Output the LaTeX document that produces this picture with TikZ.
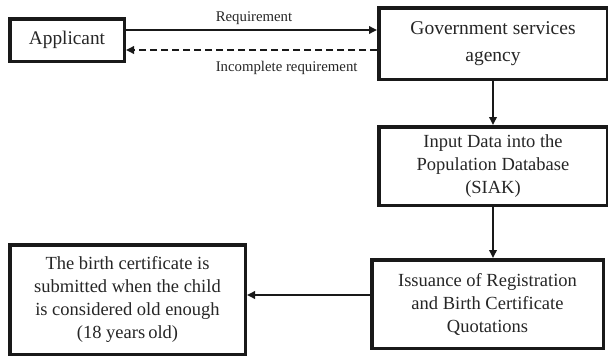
\documentclass[tikz,border=0pt]{standalone}
\usepackage{fontspec}
\setmainfont{Liberation Serif}
\usetikzlibrary{arrows.meta,calc}
\begin{document}
\begin{tikzpicture}[x=1pt,y=-1pt,
  box/.style={draw=black!90, line width=3.5pt, align=center, inner sep=0pt, text=black!85, font=\fontsize{18.5}{23}\selectfont},
  conn/.style={draw=black!90, line width=1.8pt, -{Triangle[length=8pt,width=7.5pt]}},
  lab/.style={font=\fontsize{14.8}{17}\selectfont, inner sep=0pt, text=black!85}]
\useasboundingbox[fill=white] (0,0) rectangle (608,359);
\node[box, minimum width=114.5pt, minimum height=42.5pt, font=\fontsize{19.3}{23}\selectfont] (app) at (67,40) {Applicant};
\node[box, minimum width=228.5pt, minimum height=71.5pt, font=\fontsize{19.5}{27}\selectfont] (gov) at (493,43.5) {Government services\\agency};
\node[box, minimum width=228.5pt, minimum height=78.5pt] (inp) at (493,166) {Input Data into the\\Population Database\\(SIAK)};
\node[box, minimum width=231.5pt, minimum height=88.5pt] (iss) at (487.5,304) {Issuance of Registration\\and Birth Certificate\\Quotations};
\node[box, minimum width=235.5pt, minimum height=109.5pt] (birth) at (127.5,299.5) {The birth certificate is\\submitted when the child\\is considered old enough\\(18 years\,old)};
\coordinate (r1) at ([yshift=10pt]app.east);
\coordinate (d1) at ([yshift=-10pt]app.east);
\draw[conn] (r1) -- (r1 -| gov.west) node[lab, pos=0.51, yshift=12pt] {Requirement};
\draw[conn, dash pattern=on 7pt off 4pt] (d1 -| gov.west) -- (d1) node[lab, pos=0.36, yshift=-18pt] {Incomplete requirement};
\draw[conn] (gov.south) -- (inp.north);
\draw[conn] (inp.south) -- (inp.south |- iss.north);
\coordinate (i1) at ([yshift=9pt]iss.west);
\draw[conn] (i1) -- (i1 -| birth.east);
\end{tikzpicture}
\end{document}
